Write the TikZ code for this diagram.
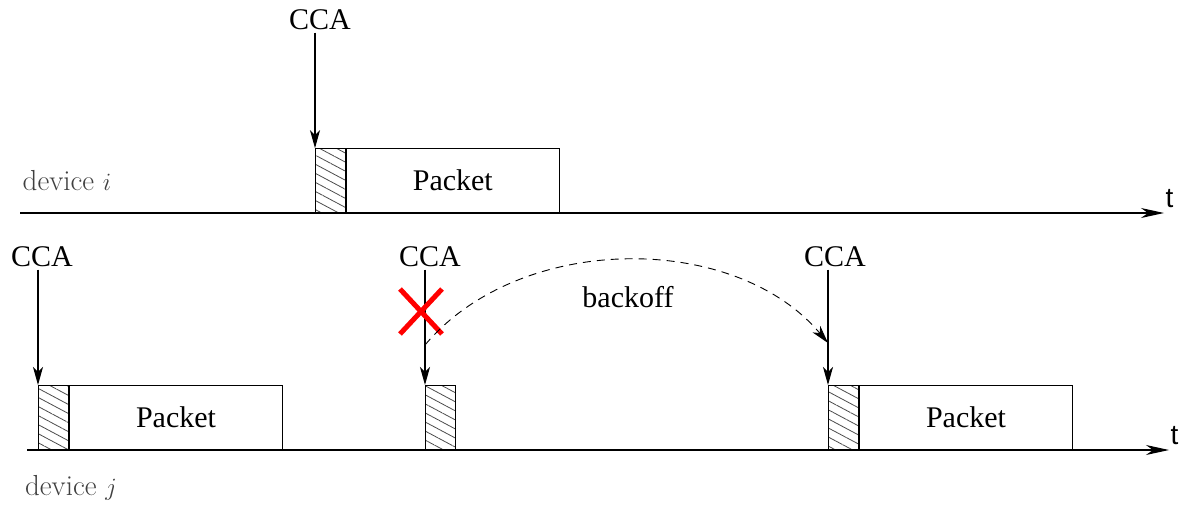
\documentclass[tikz,border=0pt]{standalone}
\usepackage{fontspec}
\setmainfont{Liberation Serif}
\setsansfont{Liberation Sans}
\newfontfamily\serfont{Liberation Serif}
\newfontfamily\lmfont{Latin Modern Roman}
\usetikzlibrary{arrows.meta, patterns.meta, positioning}

\begin{document}
\begin{tikzpicture}[x=1pt, y=-1pt, line width=1.1pt,
  every node/.style={font=\fontsize{30}{36}\selectfont\serfont},
  >={Stealth[length=18pt,width=10pt,inset=5pt]}]

\tikzstyle{slot} = [draw, line width=1pt, minimum width=30pt, minimum height=64pt, inner sep=0pt, pattern={Lines[angle=-28, distance=8pt, line width=0.8pt]}, pattern color=black!70]
\tikzstyle{packet} = [draw, line width=1pt, minimum width=213pt, minimum height=64pt, inner sep=0pt]
\tikzstyle{cca} = [inner sep=2pt]
\tikzstyle{devlabel} = [text=black!75, font=\fontsize{29}{34}\selectfont\lmfont]
\tikzstyle{tlabel} = [font=\fontsize{28}{34}\selectfont\sffamily, inner sep=0pt]
\tikzstyle{arrow} = [->]
\tikzstyle{axis} = [-{Stealth[length=23pt,width=10pt,inset=7pt]}]

\useasboundingbox (0,0) rectangle (1187,504);

% Axes
\coordinate (axIs) at (20,213);
\coordinate (axIe) at (1164,213);
\coordinate (axJs) at (27,450);
\coordinate (axJe) at (1169,450);
\draw [axis] (axIs) -- (axIe);
\draw [axis] (axJs) -- (axJe);
\node (tI) [tlabel, anchor=south west] at (1165,208) {t};
\node (tJ) [tlabel, anchor=south west] at (1170,445) {t};
\node (devI) [devlabel] at (67,181) {device $i$};
\node (devJ) [devlabel] at (71,488) {device $j$};

% device i
\node (slotI) [slot, anchor=south west] at (315,213) {};
\node (pktI) [packet, right=0pt of slotI] {Packet};
\node (ccaI) [cca] at (320,20) {CCA};
\draw [arrow] (ccaI.south -| slotI.north west) -- (slotI.north west);

% device j
\node (slotJa) [slot, anchor=south west] at (38,450) {};
\node (pktJa) [packet, right=0pt of slotJa] {Packet};
\node (ccaJa) [cca] at (42,257) {CCA};
\draw [arrow] (ccaJa.south -| slotJa.north west) -- (slotJa.north west);

\node (slotJb) [slot, anchor=south west] at (425,450) {};
\node (ccaJb) [cca] at (430,257) {CCA};
\draw [arrow] (ccaJb.south -| slotJb.north west) -- (slotJb.north west);

\node (slotJc) [slot, anchor=south west] at (828,450) {};
\node (pktJc) [packet, right=0pt of slotJc] {Packet};
\node (ccaJc) [cca] at (835,257) {CCA};
\draw [arrow] (ccaJc.south -| slotJc.north west) -- (slotJc.north west);

% failed CCA and backoff
\draw [red, line width=5pt] (400,289) -- (442,334) (400,334) -- (442,289);
\coordinate (bkStart) at (425,345);
\coordinate (bkEnd) at (828,343);
\draw [arrow, dashed, line width=0.9pt, dash pattern=on 8pt off 6pt] (bkStart) .. controls (520,232) and (735,232) .. (bkEnd);
\node (bk) at (628,297) {backoff};

\end{tikzpicture}
\end{document}
